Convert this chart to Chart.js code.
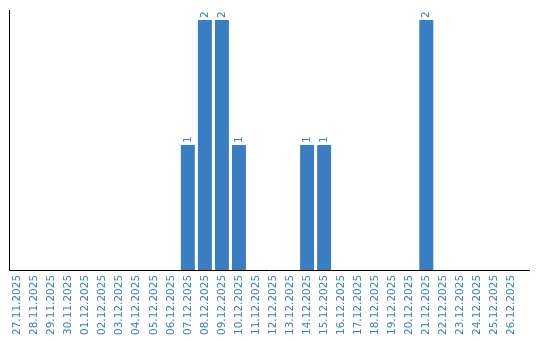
<!DOCTYPE html>
<html>
<head>
  <title>Daily count</title>
  <script src="https://cdn.jsdelivr.net/npm/chart.js"></script>
  <style>
    body { margin: 0; background: #fff; }
    .wrap { width: 540px; height: 340px; }
  </style>
</head>
<body>
  <div class="wrap"><canvas id="chart"></canvas></div>
  <script>
    const days = [
      "27.11.2025", "28.11.2025", "29.11.2025", "30.11.2025", "01.12.2025",
      "02.12.2025", "03.12.2025", "04.12.2025", "05.12.2025", "06.12.2025",
      "07.12.2025", "08.12.2025", "09.12.2025", "10.12.2025", "11.12.2025",
      "12.12.2025", "13.12.2025", "14.12.2025", "15.12.2025", "16.12.2025",
      "17.12.2025", "18.12.2025", "19.12.2025", "20.12.2025", "21.12.2025",
      "22.12.2025", "23.12.2025", "24.12.2025", "25.12.2025", "26.12.2025"
    ];
    const counts = [
      0, 0, 0, 0, 0, 0, 0, 0, 0, 0,
      1, 2, 2, 1, 0, 0, 0, 1, 1, 0,
      0, 0, 0, 0, 2, 0, 0, 0, 0, 0
    ];

    const barColor = "#3b7dc3";
    const textColor = "#3b7dc4";
    const font = "DejaVu Sans";

    // value labels above the bars, plus the two axis lines
    const extras = {
      id: "extras",
      afterDatasetsDraw(chart) {
        const c = chart.ctx;
        const meta = chart.getDatasetMeta(0);
        c.save();
        c.fillStyle = textColor;
        c.font = "10.5px '" + font + "'";
        c.textAlign = "left";
        c.textBaseline = "middle";
        meta.data.forEach((bar, i) => {
          if (!counts[i]) return;
          c.save();
          c.translate(bar.x, bar.y - 2);
          c.rotate(-Math.PI / 2);
          c.fillText(String(counts[i]), 0, 0);
          c.restore();
        });
        const a = chart.chartArea;
        const x0 = Math.round(a.left) + 0.5;
        const y0 = Math.round(a.bottom) + 0.5;
        c.strokeStyle = "#000";
        c.lineWidth = 1;
        c.beginPath();
        c.moveTo(x0, Math.round(a.top));
        c.lineTo(x0, y0);
        c.lineTo(a.right + 10, y0);
        c.stroke();
        c.restore();
      }
    };

    new Chart(document.getElementById("chart"), {
      type: "bar",
      data: {
        labels: days,
        datasets: [{
          data: counts,
          backgroundColor: barColor,
          borderWidth: 0,
          categoryPercentage: 1,
          barPercentage: 0.82
        }]
      },
      options: {
        responsive: true,
        maintainAspectRatio: false,
        animation: false,
        layout: { padding: { left: 9, top: 10, right: 20, bottom: 0 } },
        plugins: { legend: { display: false }, tooltip: { enabled: false } },
        scales: {
          x: {
            grid: { display: false, drawTicks: false },
            border: { display: false },
            ticks: {
              color: textColor,
              font: { family: font, size: 10.5 },
              minRotation: 90,
              maxRotation: 90,
              autoSkip: false,
              padding: 5
            }
          },
          y: {
            display: false,
            min: 0,
            max: 2.08
          }
        }
      },
      plugins: [extras]
    });
  </script>
</body>
</html>
